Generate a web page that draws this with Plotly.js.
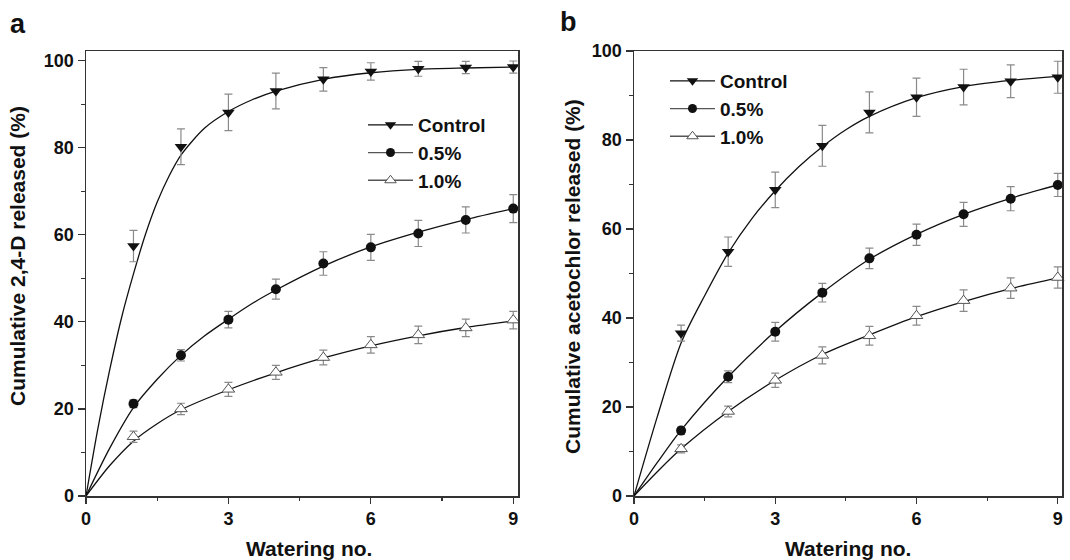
<!DOCTYPE html>
<html>
<head>
<meta charset="utf-8">
<script src="https://cdn.plot.ly/plotly-3.0.1.min.js"></script>
<style>html,body{margin:0;padding:0;background:#fff;}#chart{width:1070px;height:560px;}</style>
</head>
<body>
<div id="chart"></div>
<script>
// Measured data points (watering number)
const wateringNo = [1, 2, 3, 4, 5, 6, 7, 8, 9];

// Panel a: 2,4-D
const aControl    = [57.4, 80.2, 88.1, 93.0, 95.7, 97.5, 98.1, 98.4, 98.5];
const aControlErr = [3.6, 4.1, 4.2, 4.1, 2.7, 2.0, 1.7, 1.4, 1.4];
const aHalf       = [21.2, 32.3, 40.5, 47.5, 53.4, 57.1, 60.3, 63.4, 66.0];
const aHalfErr    = [0.9, 1.3, 1.9, 2.3, 2.7, 3.0, 3.0, 3.0, 3.2];
const aOne        = [13.6, 20.0, 24.5, 28.4, 31.8, 34.7, 37.0, 38.6, 40.4];
const aOneErr     = [1.3, 1.3, 1.6, 1.6, 1.7, 1.9, 2.0, 2.0, 2.0];

// Panel a fitted curves
const aFitControlX = [0, 0.25, 0.5, 0.75, 1, 1.25, 1.5, 1.75, 2, 2.5, 3, 3.5, 4, 5, 6, 7, 8, 9];
const aFitControlY = [0, 15.5, 29, 41, 51, 60, 67.5, 73.5, 78.3, 84.5, 88.3, 91, 93, 95.7, 97.2, 98, 98.3, 98.5];
const aFitHalfX = [0, 0.5, 1, 1.5, 2, 2.5, 3, 3.5, 4, 5, 6, 7, 8, 9];
const aFitHalfY = [0, 11, 20.3, 26.8, 32.3, 36.8, 40.6, 44.2, 47.3, 52.8, 57.2, 60.6, 63.5, 66.0];
const aFitOneX = [0, 0.5, 1, 1.5, 2, 3, 4, 5, 6, 7, 8, 9];
const aFitOneY = [0, 7, 12.6, 16.6, 19.8, 24.4, 28.3, 31.7, 34.5, 36.8, 38.7, 40.2];

// Panel b: acetochlor
const bControl    = [36.6, 54.9, 68.8, 78.7, 86.2, 89.6, 91.9, 93.2, 94.1];
const bControlErr = [1.8, 3.3, 4.0, 4.6, 4.6, 4.3, 4.0, 3.7, 3.6];
const bHalf       = [14.7, 26.8, 36.9, 45.7, 53.4, 58.7, 63.3, 66.8, 69.9];
const bHalfErr    = [0.8, 1.3, 2.1, 2.1, 2.3, 2.4, 2.7, 2.7, 2.6];
const bOne        = [10.6, 19.0, 26.0, 31.6, 36.0, 40.5, 43.9, 46.7, 49.1];
const bOneErr     = [0.9, 1.2, 1.6, 1.9, 2.1, 2.1, 2.4, 2.3, 2.4];

const bFitControlX = [0, 0.5, 1, 1.5, 2, 2.5, 3, 3.5, 4, 4.5, 5, 6, 7, 8, 9];
const bFitControlY = [0, 18, 34.4, 45, 54.6, 62.3, 68.6, 74, 78.5, 82.3, 85.3, 89.5, 92, 93.4, 94.3];
const bFitHalfX = [0, 0.5, 1, 2, 3, 4, 5, 6, 7, 8, 9];
const bFitHalfY = [0, 7.6, 14.8, 26.8, 37, 45.7, 53.2, 58.8, 63.3, 66.9, 69.9];
const bFitOneX = [0, 0.5, 1, 2, 3, 4, 5, 6, 7, 8, 9];
const bFitOneY = [0, 5.5, 10.6, 19, 26, 31.8, 36.2, 40.3, 43.7, 46.6, 49.0];

const seriesNames = ['Control', '0.5%', '1.0%'];
const xTickVals = [0, 3, 6, 9];
const yTickVals = [0, 20, 40, 60, 80, 100];

const FONT = 'Liberation Sans, Arial, Helvetica, sans-serif';
const markerStyles = [
  {symbol: 'triangle-down', size: 11, color: '#111', line: {width: 0}},
  {symbol: 'circle', size: 10, color: '#111', line: {width: 0}},
  {symbol: 'triangle-up', size: 11, color: '#fff', line: {width: 1, color: '#555'}}
];
const errStyle = (arr) => ({type: 'data', array: arr, visible: true, color: '#8a8a8a', thickness: 1.2, width: 4});

function panelTraces(xa, ya, legendId, fits, pts) {
  const tr = [];
  fits.forEach((f) => {
    tr.push({x: f[0], y: f[1], xaxis: xa, yaxis: ya, mode: 'lines', type: 'scatter',
      line: {color: '#111', width: 1.3, shape: 'spline', smoothing: 0.8}, showlegend: false, hoverinfo: 'skip', cliponaxis: false});
  });
  pts.forEach((p, i) => {
    tr.push({x: wateringNo, y: p[0], xaxis: xa, yaxis: ya, mode: 'markers', type: 'scatter',
      marker: markerStyles[i], error_y: errStyle(p[1]), showlegend: false, cliponaxis: false});
  });
  seriesNames.forEach((n, i) => {
    tr.push({x: [null], y: [null], xaxis: xa, yaxis: ya, mode: 'lines+markers', type: 'scatter', name: n,
      legend: legendId,
      line: {color: i === 0 ? '#111' : '#555', width: 1.3}, marker: Object.assign({}, markerStyles[i], {size: i === 1 ? 9 : 10})});
  });
  return tr;
}

const traces = [].concat(
  panelTraces('x', 'y', 'legend',
    [[aFitControlX, aFitControlY], [aFitHalfX, aFitHalfY], [aFitOneX, aFitOneY]],
    [[aControl, aControlErr], [aHalf, aHalfErr], [aOne, aOneErr]]),
  panelTraces('x2', 'y2', 'legend2',
    [[bFitControlX, bFitControlY], [bFitHalfX, bFitHalfY], [bFitOneX, bFitOneY]],
    [[bControl, bControlErr], [bHalf, bHalfErr], [bOne, bOneErr]])
);

const W = 1070, H = 560;
const px = (v) => v / W;
const py = (v) => 1 - v / H;

function xAxis(domain, anchor, range) {
  return {domain: domain, anchor: anchor, range: range, tickvals: xTickVals, ticktext: xTickVals.map(String),
    ticks: 'outside', ticklen: 6, tickwidth: 1.3, tickcolor: '#333',
    minor: {dtick: 1.5, tick0: 0, ticks: 'outside', ticklen: 3.5, tickwidth: 1.2, tickcolor: '#333', showgrid: false},
    showline: true, mirror: true, linecolor: '#333', linewidth: 1.5, showgrid: false, zeroline: false,
    tickfont: {family: FONT, size: 18, color: '#111', weight: 'bold'}, fixedrange: true};
}
function yAxis(domain, anchor, range) {
  return {domain: domain, anchor: anchor, range: range, tickvals: yTickVals, ticktext: yTickVals.map(String),
    ticks: 'outside', ticklen: 7, tickwidth: 1.3, tickcolor: '#333',
    minor: {dtick: 10, tick0: 0, ticks: 'outside', ticklen: 3.5, tickwidth: 1.2, tickcolor: '#333', showgrid: false},
    showline: true, mirror: true, linecolor: '#333', linewidth: 1.5, showgrid: false, zeroline: false,
    tickfont: {family: FONT, size: 18, color: '#111', weight: 'bold'}, fixedrange: true};
}

const yDom = [py(496), py(51)];
const legendBase = {font: {family: FONT, size: 19, color: '#111', weight: 'bold'}, bgcolor: 'rgba(0,0,0,0)',
  borderwidth: 0, itemwidth: 45, tracegroupgap: 0, xanchor: 'left', yanchor: 'top', itemclick: false, itemdoubleclick: false};

const titleFont = {family: FONT, size: 21, color: '#111', weight: 'bold'};
const layout = {
  width: W, height: H, margin: {l: 0, r: 0, t: 0, b: 0},
  paper_bgcolor: '#fff', plot_bgcolor: '#fff',
  showlegend: true,
  xaxis: xAxis([px(86), px(518)], 'y', [0, 9.1]),
  yaxis: yAxis(yDom, 'x', [0, 102.2]),
  xaxis2: xAxis([px(634), px(1062)], 'y2', [0, 9.09]),
  yaxis2: yAxis(yDom, 'x2', [0, 100]),
  legend: Object.assign({}, legendBase, {x: px(363), y: py(106)}),
  legend2: Object.assign({}, legendBase, {x: px(665), y: py(62)}),
  annotations: [
    {text: 'a', xref: 'paper', yref: 'paper', x: px(8), y: py(24), xanchor: 'left', yanchor: 'middle', showarrow: false,
      font: {family: FONT, size: 27, color: '#111', weight: 'bold'}},
    {text: 'b', xref: 'paper', yref: 'paper', x: px(558), y: py(22), xanchor: 'left', yanchor: 'middle', showarrow: false,
      font: {family: FONT, size: 27, color: '#111', weight: 'bold'}},
    {text: 'Watering no.', xref: 'paper', yref: 'paper', x: px(309), y: py(548), xanchor: 'center', yanchor: 'middle', showarrow: false, font: titleFont},
    {text: 'Watering no.', xref: 'paper', yref: 'paper', x: px(848), y: py(548), xanchor: 'center', yanchor: 'middle', showarrow: false, font: titleFont},
    {text: 'Cumulative 2,4-D released (%)', xref: 'paper', yref: 'paper', x: px(18), y: py(256), xanchor: 'center', yanchor: 'middle', textangle: -90, showarrow: false, font: titleFont},
    {text: 'Cumulative acetochlor released (%)', xref: 'paper', yref: 'paper', x: px(572), y: py(277), xanchor: 'center', yanchor: 'middle', textangle: -90, showarrow: false, font: titleFont}
  ]
};

Plotly.newPlot('chart', traces, layout, {displayModeBar: false, staticPlot: true});
</script>
</body>
</html>
